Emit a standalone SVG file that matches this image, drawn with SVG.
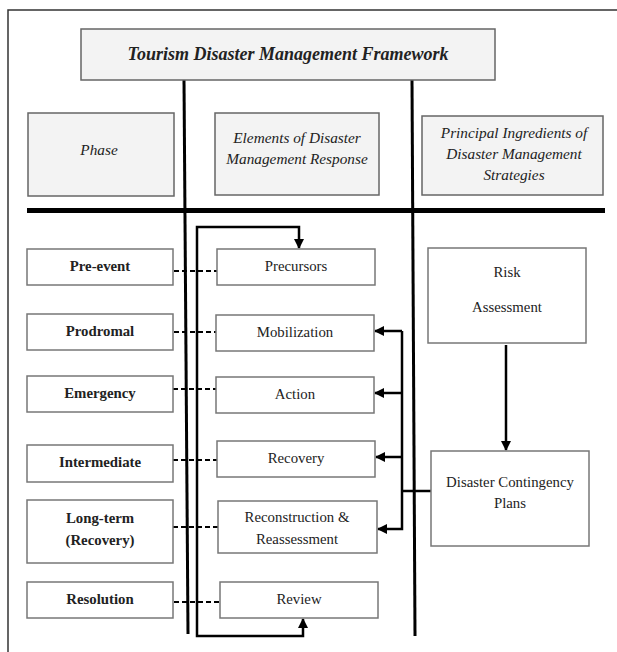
<svg xmlns="http://www.w3.org/2000/svg" width="617" height="652" viewBox="0 0 617 652">
<style>
.frame{fill:none;stroke:#333;stroke-width:1.5}
.hbox{fill:#f3f3f3;stroke:#666;stroke-width:1.5}
.box{fill:#fff;stroke:#777;stroke-width:1.5}
.t{font-family:"Liberation Serif","Times New Roman",serif;fill:#222;text-anchor:middle}
.title{font-size:18px;font-weight:bold;font-style:italic}
.hd{font-size:15.3px;font-style:italic}
.ph{font-size:14.8px;font-weight:bold}
.el{font-size:14.8px}
.main{fill:none;stroke:#000;stroke-width:3}
.dash{fill:none;stroke:#000;stroke-width:2;stroke-dasharray:5 3}
.arr{fill:none;stroke:#000;stroke-width:2.5}
</style>
<defs>
<marker id="ah" viewBox="0 0 10 10" refX="9" refY="5" markerWidth="4" markerHeight="4" orient="auto-start-reverse" markerUnits="strokeWidth">
<path d="M0,0 L10,5 L0,10 z" fill="#000"/>
</marker>
</defs>
<rect width="617" height="652" fill="#fff"/>
<path class="frame" d="M8,652 V10 H617"/>

<g id="connectors">
<path class="main" d="M184,80 L188,634"/>
<path class="main" d="M412,80 L415,636"/>
<path d="M27,210.5 H605" stroke="#000" stroke-width="5"/>
<path class="dash" d="M174,271 H217"/>
<path class="dash" d="M174,332 H216"/>
<path class="dash" d="M173,389 H216"/>
<path class="dash" d="M173,460 H217"/>
<path class="dash" d="M173,527 H218"/>
<path class="dash" d="M174,602 H220"/>
<path class="arr" marker-start="url(#ah)" marker-end="url(#ah)" d="M303,619 V636 H197 V227 H299 V248"/>
<path class="arr" d="M431,491 H402"/>
<path class="arr" marker-end="url(#ah)" d="M402,331 H375"/>
<path class="arr" marker-end="url(#ah)" d="M402,393 H375"/>
<path class="arr" marker-end="url(#ah)" d="M402,457 H376"/>
<path class="arr" marker-end="url(#ah)" d="M402,331 V529 H378"/>
<path class="arr" marker-end="url(#ah)" d="M506,345 V450"/>
</g>

<g id="title"><rect class="hbox" x="81" y="29" width="414" height="51"/><text class="t title" x="288" y="60">Tourism Disaster Management Framework</text></g>
<g id="h-phase"><rect class="hbox" x="28" y="113" width="146" height="83"/><text class="t hd" x="99" y="155">Phase</text></g>
<g id="h-elements"><rect class="hbox" x="215" y="113" width="164" height="82"/><text class="t hd" x="297" y="143">Elements of Disaster</text><text class="t hd" x="297" y="164">Management Response</text></g>
<g id="h-principal"><rect class="hbox" x="422" y="116" width="181" height="79"/><text class="t hd" x="514" y="138">Principal Ingredients of</text><text class="t hd" x="514" y="159">Disaster Management</text><text class="t hd" x="514" y="180">Strategies</text></g>

<g id="pre-event"><rect class="box" x="27" y="249" width="146" height="36"/><text class="t ph" x="100" y="271">Pre-event</text></g>
<g id="prodromal"><rect class="box" x="27" y="314" width="146" height="36"/><text class="t ph" x="100" y="336">Prodromal</text></g>
<g id="emergency"><rect class="box" x="27" y="376" width="146" height="36"/><text class="t ph" x="100" y="398">Emergency</text></g>
<g id="intermediate"><rect class="box" x="27" y="445" width="146" height="37"/><text class="t ph" x="100" y="467">Intermediate</text></g>
<g id="long-term"><rect class="box" x="27" y="500" width="146" height="63"/><text class="t ph" x="100" y="523">Long-term</text><text class="t ph" x="100" y="545">(Recovery)</text></g>
<g id="resolution"><rect class="box" x="27" y="582" width="146" height="36"/><text class="t ph" x="100" y="604">Resolution</text></g>

<g id="precursors"><rect class="box" x="217" y="249" width="158" height="36"/><text class="t el" x="296" y="271">Precursors</text></g>
<g id="mobilization"><rect class="box" x="216" y="315" width="158" height="36"/><text class="t el" x="295" y="337">Mobilization</text></g>
<g id="action"><rect class="box" x="216" y="377" width="158" height="36"/><text class="t el" x="295" y="399">Action</text></g>
<g id="recovery"><rect class="box" x="217" y="441" width="158" height="36"/><text class="t el" x="296" y="463">Recovery</text></g>
<g id="reconstruction"><rect class="box" x="218" y="501" width="159" height="52"/><text class="t el" x="297" y="522">Reconstruction &amp;</text><text class="t el" x="297" y="544">Reassessment</text></g>
<g id="review"><rect class="box" x="220" y="582" width="158" height="36"/><text class="t el" x="299" y="604">Review</text></g>

<g id="risk"><rect class="box" x="428" y="248" width="158" height="95"/><text class="t el" x="507" y="277">Risk</text><text class="t el" x="507" y="312">Assessment</text></g>
<g id="contingency"><rect class="box" x="431" y="451" width="158" height="95"/><text class="t el" x="510" y="487">Disaster Contingency</text><text class="t el" x="510" y="508">Plans</text></g>
</svg>
